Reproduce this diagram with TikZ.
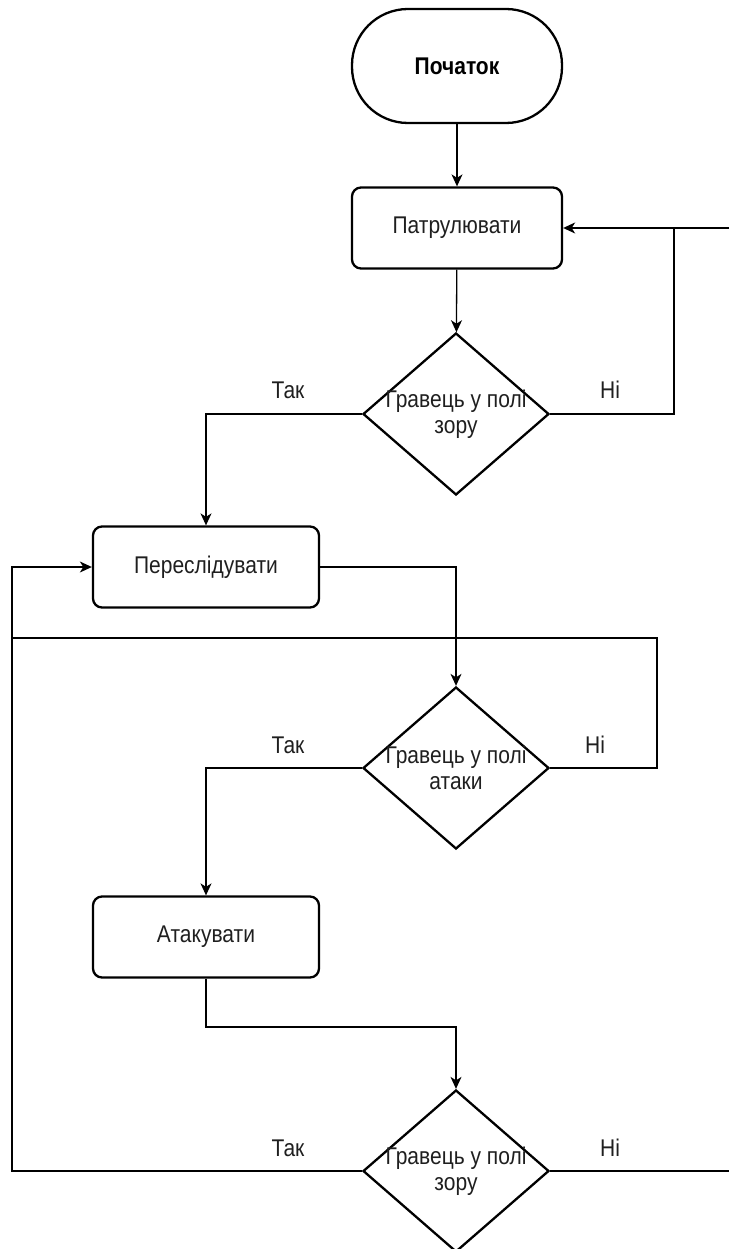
\documentclass[tikz,border=0pt]{standalone}
\usepackage{fontspec}
\usepackage{graphicx}
\setmainfont{Liberation Sans}
\usetikzlibrary{shapes.geometric,arrows.meta}
\newcommand\tallt[1]{\scalebox{1}[1.15]{#1}}
\begin{document}
\begin{tikzpicture}[x=1pt,y=-1pt,
  txt/.style={font=\fontsize{21}{26}\selectfont, text=black!88},
  box/.style={draw, line width=2.3pt, rounded corners=9pt, minimum width=226pt, minimum height=81pt, inner sep=0pt, txt},
  term/.style={draw, line width=2.3pt, rounded corners=56pt, minimum width=210pt, minimum height=114pt, inner sep=0pt, font=\bfseries\fontsize{21}{25}\selectfont},
  dec/.style={draw, diamond, line width=2.3pt, minimum width=186pt, minimum height=162pt, inner sep=0pt},
  dectext/.style={txt, align=center},
  conn/.style={line width=1.3pt, -{Stealth[length=12pt,width=11pt,inset=3.5pt]}},
  plain/.style={line width=1.3pt},
  lab/.style={txt}
]
\useasboundingbox (0,0) rectangle (729,1249);

% nodes
\node[term] (start) at (457,66) {\tallt{Початок}};
\node[box, minimum width=210pt] (patrol) at (457,228) {\tallt{Патрулювати}};
\node[dec] (d1) at (456,414) {};
\node[dectext] (d1t) at (456,414) {\tallt{Гравець у полі}\\\tallt{зору}};
\node[box] (pursue) at (206,567) {\tallt{Переслідувати}};
\node[dec] (d2) at (456,768) {};
\node[dectext] (d2t) at (456,768) {\tallt{Гравець у полі}\\\tallt{атаки}};
\node[box] (attack) at (206,937) {\tallt{Атакувати}};
\node[dec] (d3) at (456,1171) {};
\node[dectext] (d3t) at (456,1171) {\tallt{Гравець у полі}\\\tallt{зору}};

% labels
\node[lab] (y1) at (288,390) {\tallt{Так}};
\node[lab] (n1) at (610,390) {\tallt{Ні}};
\node[lab] (y2) at (288,745) {\tallt{Так}};
\node[lab] (n2) at (595,745) {\tallt{Ні}};
\node[lab] (y3) at (288,1148) {\tallt{Так}};
\node[lab] (n3) at (610,1148) {\tallt{Ні}};

% helper coordinates
\coordinate (r1) at (674,228);
\coordinate (tedge) at (729,228);
\coordinate (r2) at (657,638);
\coordinate (l2) at (12,638);
\coordinate (m3) at (206,1027);
\coordinate (l3) at (12,1171);
\coordinate (bedge) at (729,1171);

% connectors
\draw[conn] (start) -- (patrol);
\draw[conn] (patrol) -- (d1);
\draw[conn] (d1.west) -| (pursue.north);
\draw[conn] (d1.east) -| (r1) -- (patrol.east);
\draw[plain] (tedge) -- (r1);
\draw[conn] (pursue.east) -| (d2.north);
\draw[plain] (d2.east) -| (r2) -- (l2);
\draw[conn] (d2.west) -| (attack.north);
\draw[conn] (attack.south) -- (m3) -| (d3.north);
\draw[conn] (d3.west) -- (l3) |- (pursue.west);
\draw[plain] (d3.east) -- (bedge);
\end{tikzpicture}
\end{document}
